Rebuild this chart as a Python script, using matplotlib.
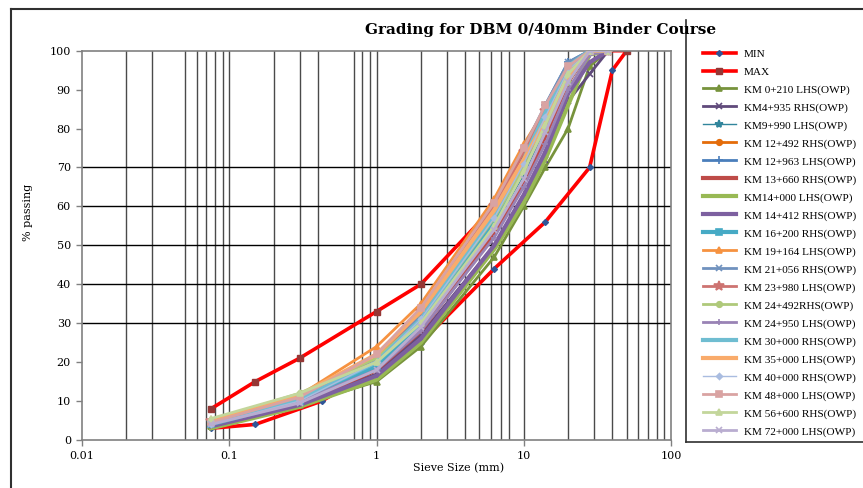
import matplotlib
matplotlib.use("Agg")
import matplotlib.pyplot as plt
from matplotlib.lines import Line2D

# ---------------- data ----------------
sieve_km = [0.075, 0.3, 1, 2, 6.3, 10, 14, 20, 28, 37.5]

min_sieve = [0.075, 0.15, 0.425, 2, 6.3, 14, 28, 40, 50]
min_vals = [3, 4, 10, 25, 44, 56, 70, 95, 100]
max_sieve = [0.075, 0.15, 0.3, 1, 2, 6.3, 10, 14, 20, 28, 37.5, 50]
max_vals = [8, 15, 21, 33, 40, 60, 73, 84, 93, 100, 100, 100]

km_labels = [
    "KM 0+210 LHS(OWP)", "KM4+935 RHS(OWP)", "KM9+990 LHS(OWP)",
    "KM 12+492 RHS(OWP)", "KM 12+963 LHS(OWP)", "KM 13+660 RHS(OWP)",
    "KM14+000 LHS(OWP)", "KM 14+412 RHS(OWP)", "KM 16+200 RHS(OWP)",
    "KM 19+164 LHS(OWP)", "KM 21+056 RHS(OWP)", "KM 23+980 LHS(OWP)",
    "KM 24+492RHS(OWP)", "KM 24+950 LHS(OWP)", "KM 30+000 RHS(OWP)",
    "KM 35+000 LHS(OWP)", "KM 40+000 RHS(OWP)", "KM 48+000 LHS(OWP)",
    "KM 56+600 RHS(OWP)", "KM 72+000 LHS(OWP)",
]

km0_210 = [3.5, 9, 15, 24, 47, 60, 70, 80, 96, 100]
km4_935 = [4, 9, 17, 27, 50, 62, 72, 87, 94, 100]
km9_990 = [4.5, 10, 19, 30, 55, 68, 80, 93, 100, 100]
km12_492 = [4, 10.5, 20, 31, 57, 70, 82, 95, 100, 100]
km12_963 = [3.5, 10, 19, 30, 56, 72, 86, 97, 100, 100]
km13_660 = [4, 9.5, 18, 28, 53, 66, 78, 92, 100, 100]
km14_000 = [3, 8.5, 15.5, 25, 49, 61, 72, 86, 99, 100]
km14_412 = [3.5, 9, 16.5, 26, 50, 63, 74, 89, 97, 100]
km16_200 = [4, 10, 19, 30, 56, 70, 82, 95, 100, 100]
km19_164 = [4.5, 11.5, 24, 35, 62, 76, 85, 95, 100, 100]
km21_056 = [4, 11, 21, 32, 60, 75, 86, 97, 100, 100]
km23_980 = [5, 11, 21, 33, 60, 74, 84.5, 94, 100, 100]
km24_492 = [5, 12, 21, 31, 57, 70, 80, 92, 100, 100]
km24_950 = [4, 10, 18, 28, 52, 65, 76, 90, 99, 100]
km30_000 = [4.5, 10.5, 20, 31, 58, 72, 84, 96, 100, 100]
km35_000 = [5, 11.5, 22, 33, 59, 72, 82, 93, 100, 100]
km40_000 = [4, 10, 20, 31, 57, 71, 83, 95, 100, 100]
km48_000 = [4.5, 11, 22, 34, 61, 75, 86, 96, 100, 100]
km56_600 = [5.5, 12, 20, 30, 55, 69, 81, 94, 100, 100]
km72_000 = [4, 9.5, 18, 29, 54, 67, 79, 92, 100, 100]

km_values = [km0_210, km4_935, km9_990, km12_492, km12_963, km13_660,
             km14_000, km14_412, km16_200, km19_164, km21_056, km23_980,
             km24_492, km24_950, km30_000, km35_000, km40_000, km48_000,
             km56_600, km72_000]

x_tick_vals = [0.01, 0.1, 1, 10, 100]
x_tick_labels = ["0.01", "0.1", "1", "10", "100"]
y_tick_vals = [0, 10, 20, 30, 40, 50, 60, 70, 80, 90, 100]

# ---------------- styles ----------------
km_colors = ["#77933C", "#604A7B", "#31859C", "#E46C0A", "#4A7EBB", "#BE4B48",
             "#98B954", "#7D60A0", "#46AAC5", "#F69240", "#7092BE", "#CD7371",
             "#AFC97A", "#9983B5", "#6FBDD1", "#F9AB6B", "#A9BCE0", "#D9A3A2",
             "#C3D69B", "#B9ADD0"]
km_markers = ["^", "x", "*", "o", "+", "None", "None", "+", "s", "^", "x", "*",
              "o", "+", "None", "None", "D", "s", "^", "x"]
km_lw = [2.0, 2.0, 1.0, 2.0, 2.0, 3.0, 3.0, 3.0, 3.0, 2.0, 2.0, 2.0,
         2.0, 2.0, 3.0, 3.0, 1.0, 2.0, 2.0, 2.0]
km_ms = [5, 5, 6, 4, 6, 0, 0, 3, 4, 5, 5, 7, 4, 5, 0, 0, 3, 5, 5, 5]

serif = "DejaVu Serif"
W, H = 863, 488
fig = plt.figure(figsize=(W / 100, H / 100), dpi=100)

ax_l, ax_r, ax_t, ax_b = 82, 671, 50.7, 440
ax = fig.add_axes([ax_l / W, 1 - ax_b / H, (ax_r - ax_l) / W, (ax_b - ax_t) / H])
ax.set_xscale("log")
ax.set_xlim(0.01, 100)
ax.set_ylim(0, 100)

# gridlines (as they appear in the reference)
vgrid = [0.02, 0.03, 0.05, 0.06, 0.07, 0.08, 0.09, 0.1, 0.2, 0.3, 0.4, 0.7, 0.8,
         0.9, 1, 2, 3, 4, 5, 6, 7, 8, 10, 20, 30, 40, 50, 60, 70, 80, 90]
for v in vgrid:
    ax.axvline(v, color="#4a4a4a", lw=1.0, zorder=0.5)
for h in [30, 40, 50, 60, 70]:
    ax.axhline(h, color="black", lw=1.0, zorder=0.5)

# MIN / MAX
ax.plot(min_sieve, min_vals, color="#FF0000", lw=2.6, marker="D", ms=3,
        mfc="#2F5597", mec="#2F5597", label="MIN", zorder=2)
ax.plot(max_sieve, max_vals, color="#FF0000", lw=2.6, marker="s", ms=4,
        mfc="#953735", mec="#953735", label="MAX", zorder=2)

for i, (lab, vals) in enumerate(zip(km_labels, km_values)):
    ax.plot(sieve_km, vals, color=km_colors[i], lw=km_lw[i], marker=km_markers[i],
            ms=km_ms[i], mfc=km_colors[i], mec=km_colors[i], mew=1.2,
            label=lab, zorder=3 + i * 0.01)

ax.set_xticks(x_tick_vals)
ax.set_xticklabels(x_tick_labels)
ax.xaxis.set_minor_locator(plt.NullLocator())
ax.set_yticks(y_tick_vals)
ax.tick_params(axis="both", direction="out", length=4, width=1, color="#808080",
               labelsize=8, pad=4)
for lab in ax.get_xticklabels() + ax.get_yticklabels():
    lab.set_fontfamily(serif)
for s in ax.spines.values():
    s.set_color("#808080")
    s.set_linewidth(1.2)

ax.set_xlabel("Sieve Size (mm)", fontfamily=serif, fontsize=8)
ax.xaxis.set_label_coords((459 - ax_l) / (ax_r - ax_l), -(463 - ax_b) / (ax_b - ax_t))
ax.set_ylabel("% passing", fontfamily=serif, fontsize=8)
ax.yaxis.set_label_coords(-(82 - 33) / (ax_r - ax_l), (ax_b - 212) / (ax_b - ax_t))

fig.text(541 / W, 1 - 30 / H, "Grading for DBM 0/40mm Binder Course",
         ha="center", va="center", fontfamily=serif, fontweight="bold", fontsize=11)

# legend
handles, labels = ax.get_legend_handles_labels()
leg = fig.legend(handles, labels, loc="upper left",
                 bbox_to_anchor=(703 / W, 1 - 49.0 / H),
                 frameon=False, borderpad=0, handlelength=2.9, handletextpad=0.7,
                 labelspacing=0.70, prop={"family": "Liberation Serif", "size": 8.1},
                 borderaxespad=0)

# legend box (left & bottom edges visible) and outer chart border
fig.add_artist(Line2D([686 / W, 686 / W], [1 - 20 / H, 1 - 441.7 / H],
                      color="#303030", lw=1.2, transform=fig.transFigure))
fig.add_artist(Line2D([686 / W, 1.0], [1 - 441.7 / H, 1 - 441.7 / H],
                      color="#303030", lw=1.2, transform=fig.transFigure))
fig.add_artist(Line2D([11 / W, 11 / W], [0, 1 - 9 / H],
                      color="#303030", lw=1.5, transform=fig.transFigure))
fig.add_artist(Line2D([11 / W, 1.0], [1 - 9 / H, 1 - 9 / H],
                      color="#303030", lw=1.5, transform=fig.transFigure))

fig.savefig("out.png", dpi=100)
